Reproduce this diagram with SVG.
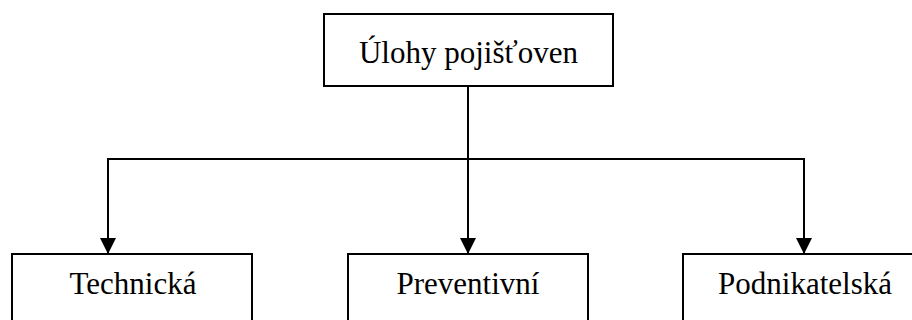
<svg xmlns="http://www.w3.org/2000/svg" width="912" height="320" viewBox="0 0 912 320">
<style>
.box{fill:#fff;stroke:#000;stroke-width:2}
.lbl{font-family:'Liberation Serif', 'Times New Roman', 'DejaVu Serif', serif;font-size:31px;fill:#000;text-anchor:middle}
.con{fill:none;stroke:#000;stroke-width:2}
</style>
<defs>
<marker id="arr" markerUnits="userSpaceOnUse" markerWidth="18" markerHeight="16" refX="16" refY="8" orient="auto">
<path d="M0,0 L16,8 L0,16 Z" fill="#000"/>
</marker>
</defs>
<rect width="912" height="320" fill="#fff"/>
<g id="connectors">
<line class="con" x1="468" y1="86" x2="468" y2="159"/>
<line class="con" x1="108" y1="159" x2="804" y2="159"/>
<line class="con" x1="108" y1="158" x2="108" y2="254" marker-end="url(#arr)"/>
<line class="con" x1="468" y1="159" x2="468" y2="254" marker-end="url(#arr)"/>
<line class="con" x1="804" y1="158" x2="804" y2="254" marker-end="url(#arr)"/>
</g>
<g id="root">
<rect class="box" x="324" y="14" width="289" height="72"/>
<text class="lbl" font-family="Liberation Serif" x="468.5" y="63">Úlohy pojišťoven</text>
</g>
<g id="technicka">
<rect class="box" x="12" y="254" width="240" height="80"/>
<text class="lbl" font-family="Liberation Serif" x="133" y="294">Technická</text>
</g>
<g id="preventivni">
<rect class="box" x="348" y="254" width="240" height="80"/>
<text class="lbl" font-family="Liberation Serif" x="468" y="294">Preventivní</text>
</g>
<g id="podnikatelska">
<rect class="box" x="683" y="254" width="240" height="80"/>
<text class="lbl" font-family="Liberation Serif" x="805" y="294">Podnikatelská</text>
</g>
</svg>
